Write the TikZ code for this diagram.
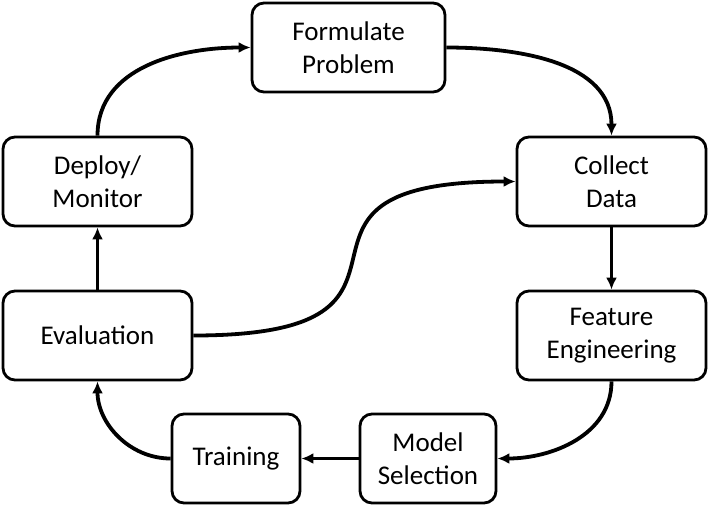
\documentclass[tikz,border=0pt]{standalone}
\usepackage{fontspec}
\setmainfont{Carlito}
\usetikzlibrary{positioning,arrows.meta}

\tikzset{
  stage/.style={draw, rounded corners=12pt, line width=2.8pt, fill=white,
    minimum width=189pt, minimum height=89pt, align=center,
    font=\fontsize{27}{33}\selectfont},
  flow/.style={-{Latex[length=12pt,width=11pt]}, line width=3.8pt}
}

\begin{document}
\begin{tikzpicture}[x=1pt,y=-1pt]
  \useasboundingbox (0,0) rectangle (709,507);
  \node[stage, minimum width=193pt] (problem) at (348.5,47.5) {Formulate\\Problem};
  \node[stage] (deploy) at (97.5,181.5) {Deploy/\\Monitor};
  \node[stage] (collect) at (611.5,181.5) {Collect\\Data};
  \node[stage] (eval) at (97.5,335.5) {Evaluation};
  \node[stage] (feature) at (611.5,335.5) {Feature\\Engineering};
  \node[stage, minimum width=128pt] (train) at (236,458.5) {Training};
  \node[stage, minimum width=136pt] (model) at (428,458.5) {Model\\Selection};

  \draw[flow] (deploy.north) to[out=90,in=180] (problem.west);
  \draw[flow] (problem.east) to[out=0,in=90] (collect.north);
  \draw[flow] (collect) -- (feature);
  \draw[flow] (feature.south) to[out=-90,in=0] (model.east);
  \draw[flow] (model) -- (train);
  \draw[flow] (train.west) to[out=180,in=-90] (eval.south);
  \draw[flow] (eval) -- (deploy);
  \draw[flow] (eval.east) to[out=0,in=180,looseness=2] (collect.west);
\end{tikzpicture}
\end{document}
